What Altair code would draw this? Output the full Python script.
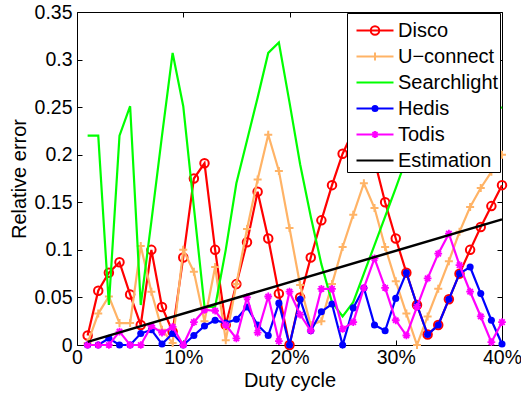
import altair as alt
import pandas as pd

# Duty cycle in percent and the relative error of each protocol
duty = list(range(1, 41))

disco = [0.010, 0.057, 0.076, 0.087, 0.053, 0.021, 0.100, 0.040, 0.014, 0.092,
         0.175, 0.191, 0.100, 0.021, 0.064, 0.108, 0.161, 0.112, 0.054, 0.000,
         0.050, 0.092, 0.131, 0.168, 0.201, 0.225, 0.230, 0.194, 0.150, 0.112,
         0.076, 0.042, 0.011, 0.021, 0.048, 0.075, 0.100, 0.124, 0.146, 0.168]

uconnect = [0.002, 0.033, 0.051, 0.023, 0.023, 0.104, 0.056, 0.016, 0.002, 0.100,
            0.077, 0.025, 0.082, 0.005, 0.064, 0.122, 0.174, 0.221, 0.183, 0.123,
            0.063, 0.021, 0.025, 0.064, 0.103, 0.137, 0.170, 0.144, 0.103, 0.067,
            0.033, 0.000, 0.030, 0.059, 0.088, 0.119, 0.145, 0.165, 0.182, 0.200]

searchlight = [0.220, 0.220, 0.042, 0.220, 0.251, 0.042, 0.130, 0.220, 0.307, 0.251,
               0.145, 0.040, 0.040, 0.100, 0.170, 0.215, 0.260, 0.307, 0.318, 0.255,
               0.190, 0.135, 0.085, 0.045, 0.030, 0.045, 0.075, 0.105, 0.135, 0.165,
               0.196, 0.225, 0.215, 0.205, 0.210, 0.220, 0.230, 0.238, 0.245, 0.250]

hedis = [0.000, 0.000, 0.007, 0.000, 0.000, 0.012, 0.016, 0.001, 0.012, 0.000,
         0.010, 0.020, 0.026, 0.023, 0.027, 0.040, 0.021, 0.010, 0.044, 0.000,
         0.048, 0.015, 0.035, 0.043, 0.000, 0.039, 0.060, 0.021, 0.015, 0.049,
         0.076, 0.042, 0.011, 0.021, 0.048, 0.075, 0.082, 0.054, 0.026, 0.001]

todis = [0.000, 0.000, 0.000, 0.014, 0.000, 0.000, 0.020, 0.013, 0.019, 0.000,
         0.024, 0.037, 0.036, 0.021, 0.007, 0.050, 0.013, 0.051, 0.004, 0.056,
         0.032, 0.015, 0.059, 0.059, 0.017, 0.024, 0.060, 0.091, 0.060, 0.026,
         0.010, 0.040, 0.070, 0.096, 0.117, 0.084, 0.056, 0.030, 0.003, 0.024]

# The estimate is a straight line between its two end points
est_duty = [1, 40]
estimation = [0.0033, 0.132]

names = ["Disco", "U\u2212connect", "Searchlight", "Hedis", "Todis", "Estimation"]
colors = ["#ff0000", "#ffb366", "#00ff00", "#0000ff", "#ff00ff", "#000000"]

x_ticks = [0, 10, 20, 30, 40]
y_ticks = [0, 0.05, 0.1, 0.15, 0.2, 0.25, 0.3, 0.35]

rows = []
for name, vals in zip(names[:5], [disco, uconnect, searchlight, hedis, todis]):
    for d, v in zip(duty, vals):
        rows.append({"series": name, "duty": d, "err": v})
for d, v in zip(est_duty, estimation):
    rows.append({"series": names[5], "duty": d, "err": v})
df = pd.DataFrame(rows)

FONT = "Liberation Sans"
FS = 20
W, H = 425, 333

xs = alt.Scale(domain=[0, 40], nice=False, zero=False)
ys = alt.Scale(domain=[0, 0.35], nice=False)

base = alt.Chart(df)


def enc(xaxis=None, yaxis=None):
    return dict(
        x=alt.X("duty:Q", scale=xs, axis=xaxis),
        y=alt.Y("err:Q", scale=ys, axis=yaxis),
    )


def only(name):
    return base.transform_filter(alt.datum.series == name)


# marker glyphs for the data points (unit box -1..1)
PLUS = "M-1,0L1,0M0,-1L0,1"
STAR = "M-1,0L1,0M0,-1L0,1M-0.7,-0.7L0.7,0.7M-0.7,0.7L0.7,-0.7"

# legend glyphs: a line segment with the series marker in the middle
SEG = "M-3.7,0L3.7,0"
ring = lambda r: f"M{r},0A{r},{r},0,1,1,{-r},0A{r},{r},0,1,1,{r},0"
legend_paths = [
    SEG + ring(0.85),
    SEG + "M0,-0.8L0,0.8",
    SEG,
    SEG + ring(0.5) + ring(0.15),
    SEG + "M0,-0.7L0,0.7M-0.5,-0.5L0.5,0.5M-0.5,0.5L0.5,-0.5",
    SEG,
]

LW = 2.2
layers = [
    only(names[0]).mark_line(color=colors[0], strokeWidth=LW).encode(**enc()),
    only(names[0]).mark_point(shape="circle", size=72, filled=False, strokeWidth=2,
                              color=colors[0], opacity=1).encode(**enc()),
    only(names[1]).mark_line(color=colors[1], strokeWidth=LW).encode(**enc()),
    only(names[1]).mark_point(shape=PLUS, size=64, filled=False, strokeWidth=2,
                              color=colors[1], opacity=1).encode(**enc()),
    only(names[2]).mark_line(color=colors[2], strokeWidth=LW).encode(**enc()),
    only(names[3]).mark_line(color=colors[3], strokeWidth=LW).encode(**enc()),
    only(names[3]).mark_point(shape="circle", size=50, filled=True,
                              color=colors[3], opacity=1).encode(**enc()),
    only(names[4]).mark_line(color=colors[4], strokeWidth=LW).encode(**enc()),
    only(names[4]).mark_point(shape=STAR, size=60, filled=False, strokeWidth=1.8,
                              color=colors[4], opacity=1).encode(**enc()),
    only(names[5]).mark_line(color=colors[5], strokeWidth=2.5).encode(**enc()),
]

# labelled axes
main_axes = base.mark_point(opacity=0).encode(**enc(
    alt.Axis(orient="bottom", values=x_ticks,
             labelExpr="datum.value == 0 ? '0' : datum.value + '%'",
             title="Duty cycle", domain=False, ticks=False, grid=False,
             labelPadding=3, titlePadding=4, labelFlush=False),
    alt.Axis(orient="left", values=y_ticks, format=".2~f",
             title="Relative error", domain=False, ticks=False, grid=False,
             labelPadding=5, titleX=-58, titleY=H / 2, titleAngle=270,
             titleAlign="center", titleBaseline="middle"),
))

tick_style = dict(labels=False, domain=False, ticks=True, tickSize=5,
                  tickColor="black", tickWidth=1, grid=False, title=None)

# inward ticks along the bottom and left edges
ticks_in_a = base.mark_point(opacity=0).encode(**enc(
    alt.Axis(orient="top", offset=-H, values=x_ticks, **tick_style),
    alt.Axis(orient="right", offset=-W, values=y_ticks, **tick_style),
))
# inward ticks along the top and right edges
ticks_in_b = base.mark_point(opacity=0).encode(**enc(
    alt.Axis(orient="bottom", offset=-H, values=x_ticks, **tick_style),
    alt.Axis(orient="left", offset=-W, values=y_ticks, **tick_style),
))

legend_def = dict(title=" ", orient="none", legendX=270, legendY=1,
                  labelExpr="datum.label + '\u00a0'")
legend_layer = base.mark_point(opacity=0, filled=False).encode(
    **enc(),
    color=alt.Color("series:N", scale=alt.Scale(domain=names, range=colors),
                    legend=alt.Legend(**legend_def)),
    shape=alt.Shape("series:N", scale=alt.Scale(domain=names, range=legend_paths),
                    legend=alt.Legend(**legend_def)),
)

chart = (
    alt.layer(*layers, main_axes, ticks_in_a, ticks_in_b, legend_layer)
    .resolve_axis(x="independent", y="independent")
    .properties(
        width=W, height=H,
        padding={"left": 77, "top": 12, "right": 19, "bottom": 54},
        autosize=alt.AutoSizeParams(type="none"),
        background="white",
    )
    .configure_view(stroke="black", strokeWidth=1)
    .configure_axis(labelFont=FONT, titleFont=FONT, labelFontSize=19.5,
                    titleFontSize=FS, labelColor="black", titleColor="black",
                    titleFontWeight="normal")
    .configure_legend(
        fillColor="white", strokeColor="black", padding=1, cornerRadius=0,
        symbolSize=100, symbolStrokeWidth=2, symbolOffset=17, labelOffset=13,
        symbolOpacity=1, labelFont=FONT, labelFontSize=FS, labelColor="black",
        labelLimit=300, rowPadding=6.0,
        titleFontSize=6, titlePadding=0.5, titleFont=FONT,
    )
)

chart.save("out.html", embed_options={"renderer": "svg", "actions": False})
